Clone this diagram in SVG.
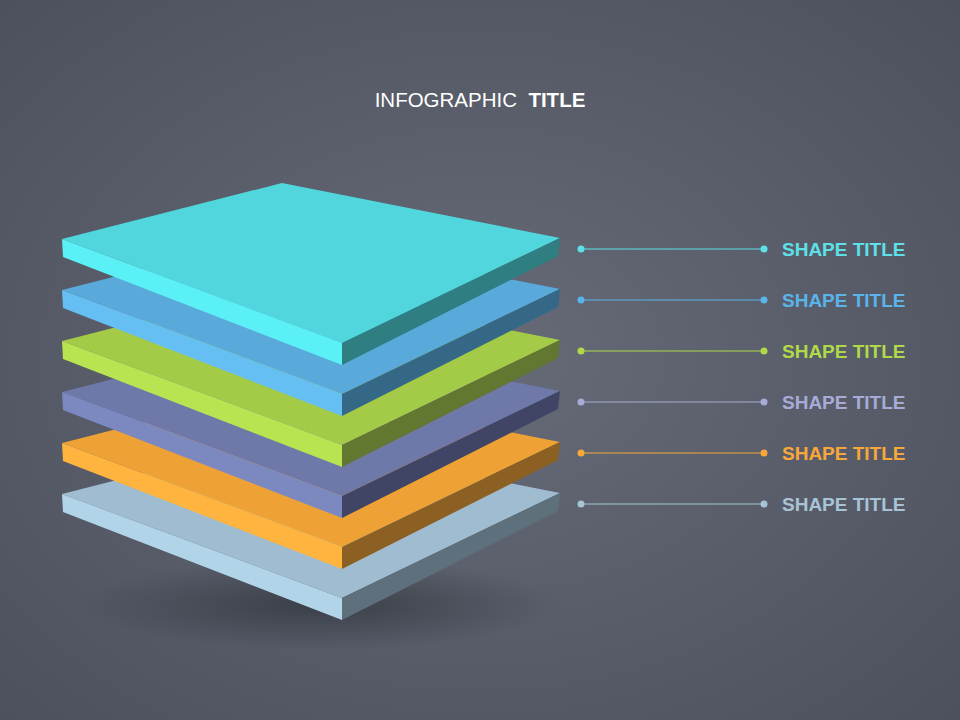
<svg xmlns="http://www.w3.org/2000/svg" width="960" height="720" viewBox="0 0 960 720">
<defs>
<radialGradient id="bg" cx="0.5" cy="0.5" r="0.75">
<stop offset="0" stop-color="#666b77"/><stop offset="1" stop-color="#4a4f5b"/>
</radialGradient>
<radialGradient id="sh" cx="0.5" cy="0.5" r="0.5">
<stop offset="0" stop-color="#2e323b" stop-opacity="0.7"/><stop offset="1" stop-color="#2e323b" stop-opacity="0"/>
</radialGradient>
</defs>
<style>
text{font-family:"Liberation Sans",Arial,sans-serif;font-size:19px}
.lbl{font-weight:bold}
.ttl{font-size:20.5px}
</style>
<rect width="960" height="720" fill="url(#bg)"/>
<ellipse cx="320" cy="605" rx="240" ry="45" fill="url(#sh)"/>
<text class="ttl" x="480" y="107" text-anchor="middle" fill="#ffffff" xml:space="preserve">INFOGRAPHIC  <tspan font-weight="bold">TITLE</tspan></text>
<g id="layer6" transform="translate(0,494)"><polygon points="62,0 282,-56 560,-1 342,104" fill="#9fbcd0"/><polygon points="62,0 342,104 342,126 63,18" fill="#b1d4e8"/><polygon points="342,104 560,-1 558,17 342,126" fill="#5d707b"/></g>
<g id="layer5" transform="translate(0,443)"><polygon points="62,0 282,-56 560,-1 342,104" fill="#eea235"/><polygon points="62,0 342,104 342,126 63,18" fill="#feb43f"/><polygon points="342,104 560,-1 558,17 342,126" fill="#8c5f22"/></g>
<g id="layer4" transform="translate(0,392)"><polygon points="62,0 282,-56 560,-1 342,104" fill="#6e78a9"/><polygon points="62,0 342,104 342,126 63,18" fill="#7c89c1"/><polygon points="342,104 560,-1 558,17 342,126" fill="#404565"/></g>
<g id="layer3" transform="translate(0,341)"><polygon points="62,0 282,-56 560,-1 342,104" fill="#a3cb48"/><polygon points="62,0 342,104 342,126 63,18" fill="#b9e452"/><polygon points="342,104 560,-1 558,17 342,126" fill="#62772f"/></g>
<g id="layer2" transform="translate(0,290)"><polygon points="62,0 282,-56 560,-1 342,104" fill="#5aa9db"/><polygon points="62,0 342,104 342,126 63,18" fill="#66bff3"/><polygon points="342,104 560,-1 558,17 342,126" fill="#356887"/></g>
<g id="layer1" transform="translate(0,239)"><polygon points="62,0 282,-56 560,-1 342,104" fill="#50d6dc"/><polygon points="62,0 342,104 342,126 63,18" fill="#5af0f5"/><polygon points="342,104 560,-1 558,17 342,126" fill="#2e7e82"/></g>
<g id="connectors" stroke-width="1">
<line x1="581" y1="249" x2="764" y2="249" stroke="#5ee0e8"/><circle cx="581" cy="249" r="3.5" fill="#5ee0e8"/><circle cx="764" cy="249" r="3.5" fill="#5ee0e8"/>
<line x1="581" y1="300" x2="764" y2="300" stroke="#5ab4ea"/><circle cx="581" cy="300" r="3.5" fill="#5ab4ea"/><circle cx="764" cy="300" r="3.5" fill="#5ab4ea"/>
<line x1="581" y1="351" x2="764" y2="351" stroke="#b0d94a"/><circle cx="581" cy="351" r="3.5" fill="#b0d94a"/><circle cx="764" cy="351" r="3.5" fill="#b0d94a"/>
<line x1="581" y1="402" x2="764" y2="402" stroke="#a7abd6"/><circle cx="581" cy="402" r="3.5" fill="#a7abd6"/><circle cx="764" cy="402" r="3.5" fill="#a7abd6"/>
<line x1="581" y1="453" x2="764" y2="453" stroke="#f8a73a"/><circle cx="581" cy="453" r="3.5" fill="#f8a73a"/><circle cx="764" cy="453" r="3.5" fill="#f8a73a"/>
<line x1="581" y1="504" x2="764" y2="504" stroke="#a9c3d6"/><circle cx="581" cy="504" r="3.5" fill="#a9c3d6"/><circle cx="764" cy="504" r="3.5" fill="#a9c3d6"/>
</g>
<g id="labels">
<text class="lbl" x="782" y="255.5" fill="#5ee0e8">SHAPE TITLE</text>
<text class="lbl" x="782" y="306.5" fill="#5ab4ea">SHAPE TITLE</text>
<text class="lbl" x="782" y="357.5" fill="#b0d94a">SHAPE TITLE</text>
<text class="lbl" x="782" y="408.5" fill="#a7abd6">SHAPE TITLE</text>
<text class="lbl" x="782" y="459.5" fill="#f8a73a">SHAPE TITLE</text>
<text class="lbl" x="782" y="510.5" fill="#a9c3d6">SHAPE TITLE</text>
</g>
</svg>
